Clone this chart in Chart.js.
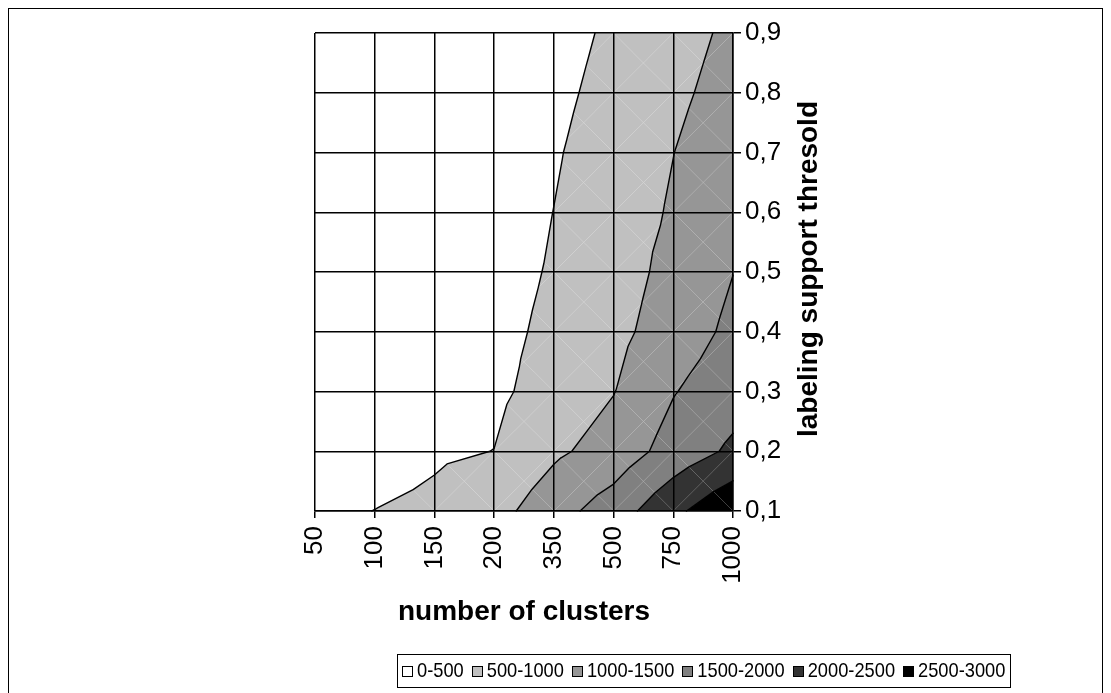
<!DOCTYPE html>
<html>
<head>
<meta charset="utf-8">
<script src="https://cdn.jsdelivr.net/npm/chart.js@4.4.1/dist/chart.umd.min.js"></script>
<style>
  html, body { margin: 0; padding: 0; background: #ffffff; }
  canvas { display: block; }
</style>
</head>
<body>
<canvas id="surface" width="1111" height="693"></canvas>
<script>
// Category axis: number of clusters
const clusterLabels = ['50', '100', '150', '200', '350', '500', '750', '1000'];
// Value axis: labeling support threshold
const thresholds = [0.1, 0.2, 0.3, 0.4, 0.5, 0.6, 0.7, 0.8, 0.9];

// Surface values, one row per threshold, one entry per cluster count
const valuesAt01 = [400, 505, 600, 820, 1307, 1746, 2381, 2920];
const valuesAt02 = [250, 300, 434, 505, 914, 1200, 1700, 2090];
const valuesAt03 = [150, 220, 320, 403, 697, 985, 1475, 1790];
const valuesAt04 = [120, 180, 260, 357, 612, 867, 1237, 1607];
const valuesAt05 = [100, 150, 220, 308, 548, 788, 1141, 1494];
const valuesAt06 = [90, 130, 180, 244, 505, 766, 1048, 1330];
const valuesAt07 = [80, 110, 150, 200, 457, 726, 995, 1265];
const valuesAt08 = [70, 95, 125, 150, 391, 650, 909, 1168];
const valuesAt09 = [60, 80, 95, 110, 325, 579, 832, 1086];

// Contour bands
const bandLabels = ['0-500', '500-1000', '1000-1500', '1500-2000', '2000-2500', '2500-3000'];
const bandLimits = [0, 500, 1000, 1500, 2000, 2500, 3000];
const bandColors = ['#FFFFFF', '#C0C0C0', '#969696', '#808080', '#333333', '#000000'];

const surfaceRows = [valuesAt01, valuesAt02, valuesAt03, valuesAt04, valuesAt05,
                     valuesAt06, valuesAt07, valuesAt08, valuesAt09];

const FONT = '"Liberation Sans", Arial, Helvetica, sans-serif';

// Sutherland–Hodgman clip of a polygon against one contour level
function clipLevel(poly, level, keepAbove) {
  const out = [];
  for (let k = 0; k < poly.length; k++) {
    const p = poly[k], q = poly[(k + 1) % poly.length];
    const pin = keepAbove ? p.z >= level : p.z <= level;
    const qin = keepAbove ? q.z >= level : q.z <= level;
    if (pin) out.push(p);
    if (pin !== qin) {
      const t = (level - p.z) / (q.z - p.z);
      out.push({ x: p.x + t * (q.x - p.x), y: p.y + t * (q.y - p.y), z: level });
    }
  }
  return out;
}

// Each grid cell is split into four triangles around its centre point
function cellTriangles() {
  const tris = [];
  for (let j = 0; j < thresholds.length - 1; j++) {
    for (let i = 0; i < clusterLabels.length - 1; i++) {
      const a = { x: i, y: thresholds[j], z: surfaceRows[j][i] };
      const b = { x: i + 1, y: thresholds[j], z: surfaceRows[j][i + 1] };
      const c = { x: i + 1, y: thresholds[j + 1], z: surfaceRows[j + 1][i + 1] };
      const d = { x: i, y: thresholds[j + 1], z: surfaceRows[j + 1][i] };
      const e = { x: i + 0.5, y: (thresholds[j] + thresholds[j + 1]) / 2,
                  z: (a.z + b.z + c.z + d.z) / 4 };
      tris.push([a, b, e], [b, c, e], [c, d, e], [d, a, e]);
    }
  }
  return tris;
}

const contourPlugin = {
  id: 'contourSurface',
  beforeDatasetsDraw(chart) {
    const { ctx, scales: { x, y } } = chart;
    const tris = cellTriangles();
    ctx.save();
    for (const tri of tris) {
      for (let b = 0; b < bandColors.length; b++) {
        let poly = clipLevel(tri, bandLimits[b], true);
        if (poly.length < 3) continue;
        poly = clipLevel(poly, bandLimits[b + 1], false);
        if (poly.length < 3) continue;
        ctx.beginPath();
        poly.forEach((p, k) => {
          const px = x.getPixelForValue(p.x), py = y.getPixelForValue(p.y);
          if (k === 0) ctx.moveTo(px, py); else ctx.lineTo(px, py);
        });
        ctx.closePath();
        ctx.fillStyle = bandColors[b];
        ctx.fill();
      }
    }
    ctx.restore();
  },
  afterDraw(chart) {
    const { ctx, scales: { x, y }, chartArea } = chart;
    const tris = cellTriangles();
    // contour lines between bands
    ctx.save();
    ctx.strokeStyle = '#000000';
    ctx.lineWidth = 1.4;
    ctx.lineCap = 'round';
    ctx.lineJoin = 'round';
    ctx.beginPath();
    for (let l = 1; l < bandLimits.length - 1; l++) {
      const level = bandLimits[l];
      for (const tri of tris) {
        const pts = [];
        for (let k = 0; k < 3; k++) {
          const p = tri[k], q = tri[(k + 1) % 3];
          if ((p.z - level) * (q.z - level) < 0) {
            const t = (level - p.z) / (q.z - p.z);
            pts.push([x.getPixelForValue(p.x + t * (q.x - p.x)),
                      y.getPixelForValue(p.y + t * (q.y - p.y))]);
          }
        }
        if (pts.length === 2) {
          ctx.moveTo(pts[0][0], pts[0][1]);
          ctx.lineTo(pts[1][0], pts[1][1]);
        }
      }
    }
    ctx.stroke();
    ctx.restore();

    // value axis title, reading upwards
    ctx.save();
    ctx.fillStyle = '#000000';
    ctx.font = 'bold 28px ' + FONT;
    ctx.textAlign = 'center';
    ctx.textBaseline = 'middle';
    ctx.translate(809, (chartArea.top + chartArea.bottom) / 2 - 3);
    ctx.rotate(-Math.PI / 2);
    ctx.fillText('labeling support thresold', 0, 0);
    ctx.restore();

    // legend (condensed text)
    ctx.save();
    ctx.font = '21px ' + FONT;
    ctx.textBaseline = 'middle';
    ctx.textAlign = 'left';
    const squeeze = 0.87;
    const box = 11, gapText = 4, gapItem = 8, padX = 5;
    let w = padX * 2 - gapItem;
    bandLabels.forEach(t => { w += box + gapText + ctx.measureText(t).width * squeeze + gapItem; });
    const left = 397, top = 654, h = 33;
    ctx.fillStyle = '#ffffff';
    ctx.fillRect(left, top, w, h);
    ctx.strokeStyle = '#000000';
    ctx.lineWidth = 1;
    ctx.strokeRect(left + 0.5, top + 0.5, Math.round(w), h);
    let cx = left + padX;
    const cy = top + h / 2 + 0.5;
    bandLabels.forEach((t, k) => {
      ctx.fillStyle = bandColors[k];
      ctx.fillRect(Math.round(cx), Math.round(cy - box / 2), box, box);
      ctx.strokeRect(Math.round(cx) + 0.5, Math.round(cy - box / 2) + 0.5, box - 1, box - 1);
      cx += box + gapText;
      ctx.save();
      ctx.translate(cx, cy);
      ctx.scale(squeeze, 1);
      ctx.fillStyle = '#000000';
      ctx.fillText(t, 0, 0);
      ctx.restore();
      cx += ctx.measureText(t).width * squeeze + gapItem;
    });
    ctx.restore();

    // chart frame
    ctx.save();
    ctx.strokeStyle = '#000000';
    ctx.lineWidth = 1;
    ctx.strokeRect(8.5, 8.5, 1094, 720);
    ctx.restore();
  }
};

new Chart(document.getElementById('surface'), {
  type: 'line',
  data: {
    labels: clusterLabels,
    datasets: bandLabels.map((label, k) => ({
      label, data: [], borderColor: '#000000', backgroundColor: bandColors[k]
    }))
  },
  options: {
    responsive: false,
    animation: false,
    events: [],
    layout: { padding: { left: 315, top: 33, right: 0, bottom: 0 } },
    plugins: { legend: { display: false }, tooltip: { enabled: false } },
    scales: {
      x: {
        type: 'category',
        offset: false,
        afterFit: s => { s.height = 182; },
        grid: { color: '#000000', lineWidth: 1.5, tickLength: 7, tickColor: '#000000', z: 1 },
        border: { color: '#000000', width: 1.5, z: 1 },
        ticks: {
          autoSkip: false, maxRotation: 90, minRotation: 90, padding: 8,
          color: '#000000', font: { family: FONT, size: 26 }
        },
        title: {
          display: true, text: 'number of clusters', color: '#000000',
          font: { family: FONT, size: 28, weight: 'bold' },
          padding: { top: 0, bottom: 64 }
        }
      },
      y: {
        type: 'linear',
        position: 'right',
        min: thresholds[0],
        max: thresholds[thresholds.length - 1],
        afterFit: s => { s.width = 378; },
        afterBuildTicks: s => { s.ticks = thresholds.map(v => ({ value: v })); },
        grid: { color: '#000000', lineWidth: 1.5, tickLength: 8, tickColor: '#000000', z: 1 },
        border: { color: '#000000', width: 1.5, z: 1 },
        ticks: {
          padding: 4, color: '#000000', font: { family: FONT, size: 26 },
          callback: v => v.toFixed(1).replace('.', ',')
        }
      }
    }
  },
  plugins: [contourPlugin]
});
</script>
</body>
</html>
